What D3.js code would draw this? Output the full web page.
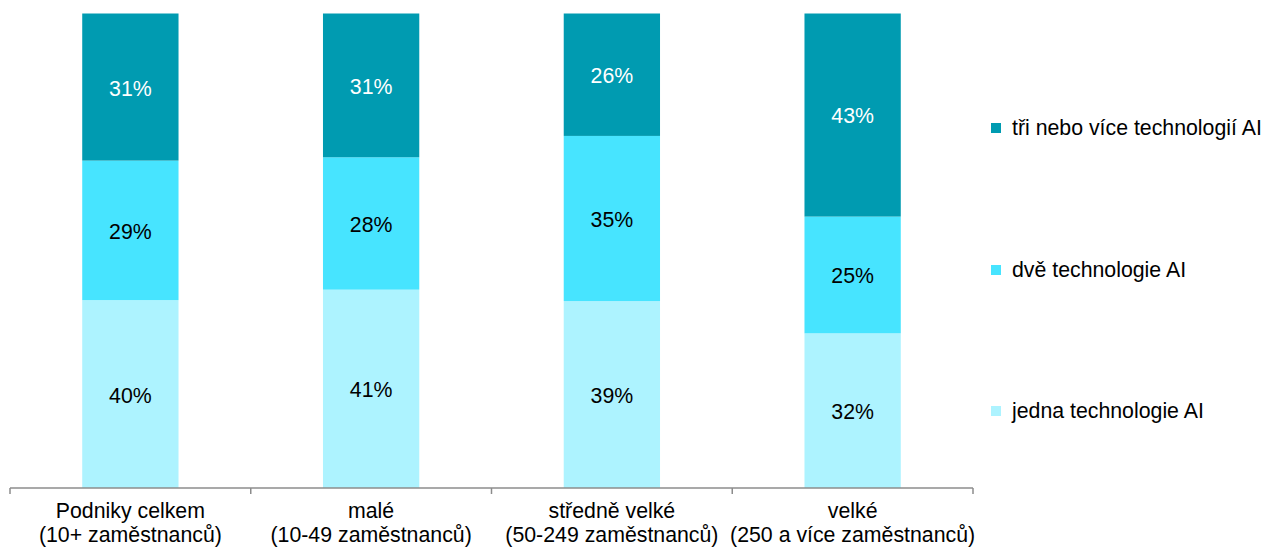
<!DOCTYPE html>
<html>
<head>
<meta charset="utf-8">
<script src="https://cdn.jsdelivr.net/npm/d3@7"></script>
<style>
  html, body { margin: 0; padding: 0; background: #fff; }
  svg { display: block; font-family: "Liberation Sans", Arial, sans-serif; }
</style>
</head>
<body>
<svg id="chart" width="1264" height="547"></svg>
<script>
const categories = ["Podniky celkem", "malé", "středně velké", "velké"];
const categorySub = ["(10+ zaměstnanců)", "(10-49 zaměstnanců)", "(50-249 zaměstnanců)", "(250 a více zaměstnanců)"];
const seriesNames = ["jedna technologie AI", "dvě technologie AI", "tři nebo více technologií AI"];
const jedna = [39.6, 41.8, 39.4, 32.6];
const dve = [29.4, 27.9, 34.8, 24.6];
const tri = [31.0, 30.3, 25.8, 42.8];
const labelsJedna = ["40%", "41%", "39%", "32%"];
const labelsDve = ["29%", "28%", "35%", "25%"];
const labelsTri = ["31%", "31%", "26%", "43%"];

const colors = ["#ADF3FF", "#47E4FF", "#009BB1"];
const textColors = ["#000", "#000", "#fff"];
const fontSize = 21.3;

const svg = d3.select("#chart");
const plotLeft = 10, plotRight = 973, plotTop = 13.5, plotBottom = 488;

const x = d3.scaleBand().domain(categories).range([plotLeft, plotRight]).paddingInner(0.6).paddingOuter(0.3);
const y = d3.scaleLinear().domain([0, 100]).range([plotBottom, plotTop]);

const rows = categories.map((c, i) => ({ cat: c, s0: jedna[i], s1: dve[i], s2: tri[i] }));
const stacked = d3.stack().keys(["s0", "s1", "s2"])(rows);
const labelSets = [labelsJedna, labelsDve, labelsTri];

const g = svg.append("g");
stacked.forEach((layer, si) => {
  const lg = g.append("g");
  lg.selectAll("rect").data(layer).join("rect")
    .attr("x", d => x(d.data.cat))
    .attr("width", x.bandwidth())
    .attr("y", d => y(d[1]))
    .attr("height", d => y(d[0]) - y(d[1]))
    .attr("fill", colors[si]);
  lg.selectAll("text").data(layer).join("text")
    .attr("x", d => x(d.data.cat) + x.bandwidth() / 2)
    .attr("y", d => (y(d[0]) + y(d[1])) / 2 + 1)
    .attr("dy", "0.35em")
    .attr("text-anchor", "middle")
    .attr("font-size", fontSize)
    .attr("fill", textColors[si])
    .text((d, i) => labelSets[si][i]);
});

// Axis
const outer = d3.scaleBand().domain(categories).range([plotLeft, plotRight]).padding(0);
const axis = d3.axisBottom(outer).tickSize(0).tickFormat("");
const ax = svg.append("g").attr("transform", `translate(0,${plotBottom})`).call(axis);
ax.selectAll(".tick").remove();
ax.select(".domain").attr("stroke", "#8c8c8c").attr("stroke-width", 1.5).attr("d", `M${plotLeft},0H${plotRight}`);
const bounds = categories.map(c => outer(c)).concat([plotRight]);
ax.selectAll(".bound").data(bounds).join("line")
  .attr("class", "bound")
  .attr("x1", d => d).attr("x2", d => d)
  .attr("y1", 0).attr("y2", 6)
  .attr("stroke", "#8c8c8c").attr("stroke-width", 1.5);

const catLabels = svg.append("g");
categories.forEach((c, i) => {
  const t = catLabels.append("text")
    .attr("text-anchor", "middle")
    .attr("font-size", fontSize)
    .attr("fill", "#000");
  const cx = outer(c) + outer.bandwidth() / 2;
  t.append("tspan").attr("x", cx).attr("y", 518).text(c);
  t.append("tspan").attr("x", cx).attr("y", 542).text(categorySub[i]);
});

// Legend
const legendY = [411, 270, 128];
const legend = svg.append("g");
seriesNames.forEach((name, i) => {
  legend.append("rect")
    .attr("x", 991).attr("y", legendY[i] - 5)
    .attr("width", 10).attr("height", 10)
    .attr("fill", colors[i]);
  legend.append("text")
    .attr("x", 1012).attr("y", legendY[i])
    .attr("dy", "0.35em")
    .attr("font-size", fontSize)
    .attr("fill", "#000")
    .text(name);
});
</script>
</body>
</html>
